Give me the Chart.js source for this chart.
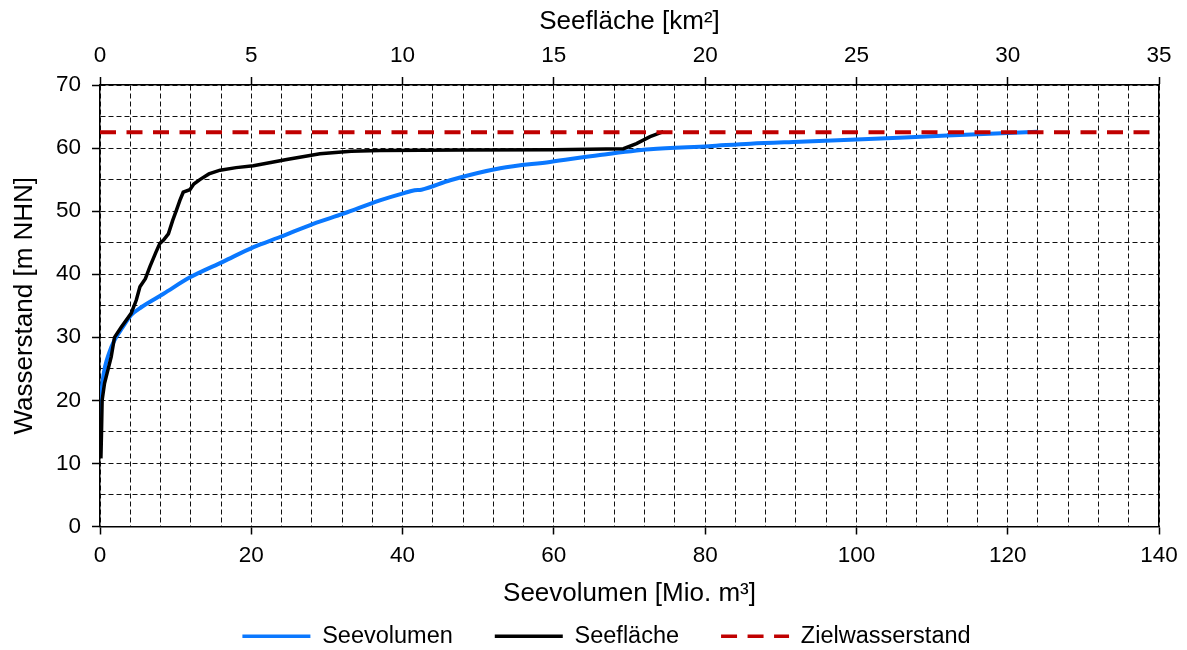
<!DOCTYPE html>
<html lang="de">
  <head>
    <meta charset="UTF-8" />
    <title>Seevolumen und Seefläche</title>
    <script src="https://cdn.jsdelivr.net/npm/chart.js"></script>
    <style>
      html, body { margin: 0; padding: 0; background: #fff; }
      #wrap { width: 1187px; height: 650px; }
    </style>
  </head>
  <body>
    <div id="wrap"><canvas id="seeChart" width="1187" height="650"></canvas></div>

    <script>
      // Seevolumen [Mio. m³] gegen Wasserstand [m NHN]
      let volumen = [0, 0.05, 0.15, 0.35, 0.7, 1.2, 1.9, 3.0, 4.1, 5.5, 8.4, 11.9, 16.3, 20.3, 23.8, 28.2, 32.2, 37.0, 40.3, 41.6, 42.5, 46.3, 52.9, 59.5, 66.1, 72.7, 80.5, 86.0, 92.5, 99.2, 112.0, 124.0];
      let volumenStand = [11, 15, 20, 23, 25.5, 27.5, 29.5, 31.6, 33.5, 34.8, 36.9, 39.5, 42.0, 44.3, 45.9, 48.0, 49.6, 51.7, 52.9, 53.3, 53.4, 54.9, 56.8, 57.8, 58.9, 59.8, 60.3, 60.7, 61.0, 61.3, 62.0, 62.6];

      // Seefläche [km²] gegen Wasserstand [m NHN]
      let flaeche = [0.03, 0.05, 0.07, 0.15, 0.37, 0.48, 0.7, 1.03, 1.2, 1.32, 1.5, 1.65, 1.85, 1.98, 2.1, 2.26, 2.4, 2.53, 2.64, 2.75, 2.97, 3.1, 3.3, 3.6, 3.97, 4.5, 5.07, 6.17, 7.27, 8.3, 9.25, 12, 15, 17.3, 17.73, 18.18, 18.62];
      let flaecheStand = [10.8, 15, 20, 22.7, 26.9, 30, 31.6, 33.8, 35.9, 38.0, 39.3, 41.2, 43.5, 44.9, 45.4, 46.4, 48.5, 50.2, 51.7, 53.0, 53.4, 54.3, 55.0, 55.9, 56.5, 56.9, 57.2, 58.2, 59.1, 59.5, 59.6, 59.7, 59.75, 59.9, 60.7, 61.8, 62.6];

      let zielwasserstand = 62.5;
      let zielVon = [0, 140];

      let volTicks = { min: 0, max: 140, step: 20 };
      let flTicks = { min: 0, max: 35, step: 1, labelEvery: 5 };
      let standTicks = { min: 0, max: 70, step: 5, labelEvery: 10 };

      Chart.defaults.font.family = "'Liberation Sans', Arial, sans-serif";
      Chart.defaults.color = '#000';

      const toPoints = (xs, ys) => xs.map((x, i) => ({ x: x, y: ys[i] }));

      const gridDash = [5, 3];
      const tickFont = { size: 22.5 };
      const titleFont = { size: 26 };
      const hidden = 'rgba(0,0,0,0)';

      // Legendenlinien mit der Strichelung der Datenreihe
      const legendLabels = (chart) =>
        Chart.defaults.plugins.legend.labels.generateLabels(chart).map((l) => {
          const ds = chart.data.datasets[l.datasetIndex];
          l.lineDash = ds.borderDash || [];
          l.lineWidth = 3.5;
          return l;
        });

      const config = {
        type: 'scatter',
        data: {
          datasets: [
            {
              label: 'Seevolumen',
              data: toPoints(volumen, volumenStand),
              xAxisID: 'x',
              showLine: true,
              borderColor: '#0a78ff',
              borderWidth: 4,
              pointRadius: 0,
              cubicInterpolationMode: 'monotone',
              order: 3,
            },
            {
              label: 'Seefläche',
              data: toPoints(flaeche, flaecheStand),
              xAxisID: 'x2',
              showLine: true,
              borderColor: '#000',
              borderWidth: 3.5,
              pointRadius: 0,
              tension: 0,
              order: 2,
            },
            {
              label: 'Zielwasserstand',
              data: zielVon.map((x) => ({ x: x, y: zielwasserstand })),
              xAxisID: 'x',
              showLine: true,
              borderColor: '#c00000',
              borderWidth: 4,
              borderDash: [16, 10.5],
              pointRadius: 0,
              order: 1,
            },
          ],
        },
        options: {
          responsive: false,
          animation: false,
          layout: { padding: { left: 0, right: -26, top: 0, bottom: -8 } },
          plugins: {
            tooltip: { enabled: false },
            legend: {
              position: 'bottom',
              labels: {
                usePointStyle: true,
                pointStyle: 'line',
                pointStyleWidth: 68,
                padding: 42,
                font: { size: 23.5 },
                color: '#000',
                generateLabels: legendLabels,
                sort: (a, b) => a.datasetIndex - b.datasetIndex,
              },
            },
          },
          scales: {
            x: {
              type: 'linear',
              position: 'bottom',
              min: volTicks.min,
              max: volTicks.max,
              ticks: { stepSize: volTicks.step, font: tickFont, padding: 8, autoSkip: false, maxRotation: 0 },
              grid: { drawOnChartArea: false, tickLength: 8, tickColor: '#000', tickWidth: 1.5 },
              border: { color: '#000', width: 1.5 },
              title: { display: true, text: 'Seevolumen [Mio. m³]', font: titleFont, padding: { top: 0, bottom: -27 } },
              afterFit: (s) => { s.height = 56; },
            },
            x2: {
              type: 'linear',
              position: 'top',
              min: flTicks.min,
              max: flTicks.max,
              ticks: {
                stepSize: flTicks.step,
                maxTicksLimit: 100,
                autoSkip: false,
                maxRotation: 0,
                font: tickFont,
                padding: 8,
                callback: (v) => (v % flTicks.labelEvery === 0 ? v : ''),
              },
              grid: {
                color: '#111',
                lineWidth: 1,
                tickLength: 8,
                tickWidth: 1.5,
                tickColor: (c) => (c.tick && c.tick.value % flTicks.labelEvery === 0 ? '#000' : hidden),
              },
              border: { color: '#000', width: 1.5, dash: gridDash },
              title: { display: true, text: 'Seefläche [km²]', font: titleFont, padding: { top: 6, bottom: 0 } },
              afterFit: (s) => { s.height = 85; },
            },
            y: {
              type: 'linear',
              position: 'left',
              min: standTicks.min,
              max: standTicks.max,
              ticks: {
                stepSize: standTicks.step,
                autoSkip: false,
                font: tickFont,
                padding: 11,
                callback: (v) => (v % standTicks.labelEvery === 0 ? v : ''),
              },
              grid: {
                color: '#111',
                lineWidth: 1,
                tickLength: 8,
                tickWidth: 1.5,
                tickColor: (c) => (c.tick && c.tick.value % standTicks.labelEvery === 0 ? '#000' : hidden),
              },
              border: { color: '#000', width: 1.5, dash: gridDash },
              title: { display: true, text: 'Wasserstand [m NHN]', font: titleFont, padding: { top: 9, bottom: 0 } },
              afterFit: (s) => { s.width = 100; },
            },
            // rechter Rahmen
            yr: {
              type: 'linear',
              position: 'right',
              min: standTicks.min,
              max: standTicks.max,
              ticks: { display: false },
              grid: { display: false },
              border: { color: '#000', width: 1.5 },
              afterFit: (s) => { s.width = 54; },
            },
          },
        },
      };

      const seeChart = new Chart(document.getElementById('seeChart'), config);
    </script>
  </body>
</html>
